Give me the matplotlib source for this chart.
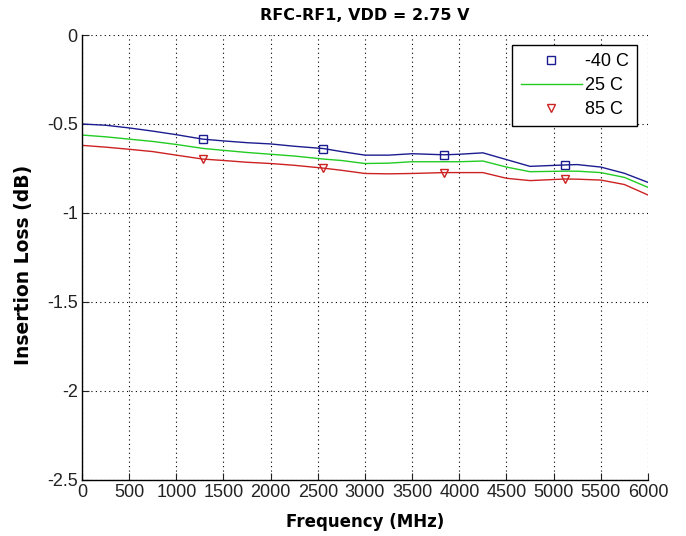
import matplotlib
matplotlib.use("Agg")
import matplotlib.pyplot as plt
from matplotlib.lines import Line2D

# ---- data ----
freq_mhz = [0, 250, 500, 750, 1000, 1280, 1500, 1750, 2000, 2250, 2560, 2750,
            3000, 3250, 3500, 3840, 4000, 4250, 4500, 4750, 5120, 5250, 5500,
            5750, 6000]
loss_m40 = [-0.500, -0.507, -0.522, -0.540, -0.560, -0.585, -0.595, -0.605,
            -0.612, -0.625, -0.638, -0.655, -0.675, -0.675, -0.667, -0.673,
            -0.670, -0.662, -0.700, -0.738, -0.730, -0.728, -0.742, -0.777,
            -0.828]
loss_25 = [-0.562, -0.572, -0.585, -0.598, -0.615, -0.637, -0.648, -0.660,
           -0.670, -0.680, -0.697, -0.705, -0.722, -0.720, -0.712, -0.712,
           -0.712, -0.708, -0.742, -0.768, -0.765, -0.765, -0.773, -0.800,
           -0.856]
loss_85 = [-0.620, -0.630, -0.642, -0.655, -0.675, -0.697, -0.705, -0.715,
           -0.722, -0.732, -0.748, -0.760, -0.778, -0.780, -0.778, -0.773,
           -0.773, -0.773, -0.805, -0.818, -0.809, -0.810, -0.815, -0.840,
           -0.899]
marker_idx = [5, 10, 15, 20]
legend_labels = ["-40 C", "25 C", "85 C"]
x_ticks = list(range(0, 6001, 500))
y_ticks = [0, -0.5, -1, -1.5, -2, -2.5]
y_tick_labels = ["0", "-0.5", "-1", "-1.5", "-2", "-2.5"]

c_blue = "#1c1c90"
c_green = "#22cc22"
c_red = "#cc2222"

plt.rcParams['font.family'] = ['Liberation Sans', 'DejaVu Sans']

fig = plt.figure(figsize=(6.86, 5.36), dpi=100)
ax = fig.add_axes([0.1195, 0.1045, 0.8251, 0.8302])

ax.plot(freq_mhz, loss_m40, color=c_blue, lw=1.0, marker='s', ms=6,
        mfc='none', mec=c_blue, mew=1.0, markevery=marker_idx)
ax.plot(freq_mhz, loss_25, color=c_green, lw=1.0)
ax.plot(freq_mhz, loss_85, color=c_red, lw=1.0, marker='v', ms=6,
        mfc='none', mec=c_red, mew=1.0, markevery=marker_idx)

ax.set_xlim(0, 6000)
ax.set_ylim(-2.5, 0)
ax.set_xticks(x_ticks)
ax.set_xticklabels([str(t) for t in x_ticks])
ax.set_yticks(y_ticks)
ax.set_yticklabels(y_tick_labels)

ax.grid(True, linestyle=(0, (1, 3)), color='black', lw=0.8)
for s in ['top', 'right']:
    ax.spines[s].set_visible(False)
for s in ['left', 'bottom']:
    ax.spines[s].set_linewidth(1.0)
ax.tick_params(direction='in', length=5, labelsize=13, pad=3, colors='#222222')

bold = dict(family=['DejaVu Sans'], fontweight='bold')
ax.set_title("RFC-RF1, VDD = 2.75 V", fontsize=11.5, pad=11, **bold)
ax.set_xlabel("Frequency (MHz)", fontsize=12, va='center', **bold)
ax.xaxis.set_label_coords(0.5, -0.094)
ax.set_ylabel("Insertion Loss (dB)", fontsize=13.5, va='center', **bold)
ax.yaxis.set_label_coords(-0.1025, 0.483)

handles = [
    Line2D([], [], color=c_blue, ls='none', marker='s', ms=6, mfc='none', mew=1.0),
    Line2D([], [], color=c_green, lw=1.0),
    Line2D([], [], color=c_red, ls='none', marker='v', ms=6, mfc='none', mew=1.0),
]
leg = ax.legend(handles, legend_labels, loc='upper right',
                bbox_to_anchor=(0.98, 0.978), borderaxespad=0,
                fontsize=13, fancybox=False, framealpha=1, edgecolor='black',
                handlelength=3.4, handletextpad=0.15, labelspacing=0.4,
                borderpad=0.45)
leg.get_frame().set_linewidth(1.0)

fig.savefig("out.png", dpi=100, facecolor='white')
